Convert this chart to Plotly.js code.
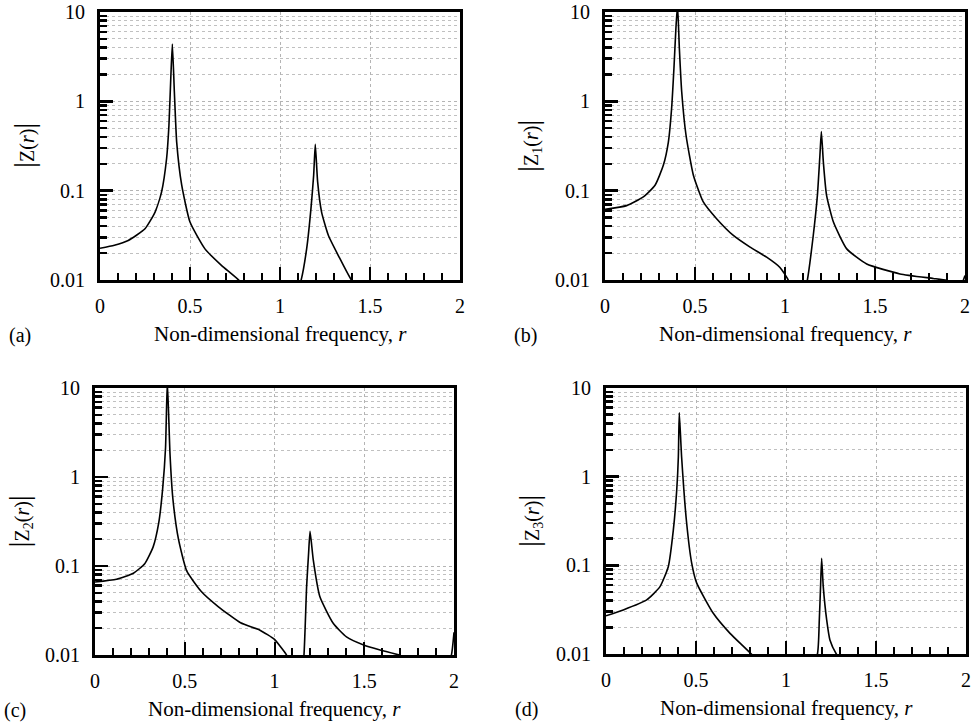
<!DOCTYPE html>
<html>
<head>
<meta charset="utf-8">
<script src="https://cdn.plot.ly/plotly-3.0.1.min.js"></script>
<style>
html,body{margin:0;padding:0;background:#fff;}
#chart{width:973px;height:724px;}
#chart svg text, #chart svg tspan { font-family: "Liberation Serif", "Times New Roman", "DejaVu Serif", serif !important; }
</style>
</head>
<body>
<div id="chart"></div>
<script>
// ---- data ----
const xTickVals = [0, 0.5, 1, 1.5, 2];
const xTickText = ['0', '0.5', '1', '1.5', '2'];
const yTickVals = [0.01, 0.1, 1, 10];
const yTickText = ['0.01', '0.1', '1', '10'];
const panelLabels = ['(a)', '(b)', '(c)', '(d)'];
const xTitle = 'Non-dimensional frequency, <i>r</i>';
const yTitles = [
  'Z(<i>r</i>)',
  'Z<sub>1</sub>(<i>r</i>)',
  'Z<sub>2</sub>(<i>r</i>)',
  'Z<sub>3</sub>(<i>r</i>)'
];

// panel (a)  |Z(r)|
const rA = [0, 0.08, 0.157, 0.25, 0.306, 0.342, 0.37, 0.383, 0.394, 0.402, 0.413, 0.426, 0.454, 0.5, 0.583, 0.676, 0.772, 0.85, 0.95, 1.05, 1.117, 1.148, 1.172, 1.187, 1.196, 1.209, 1.231, 1.269, 1.324, 1.398, 1.5, 1.7, 2.0];
const zA = [0.0227, 0.0245, 0.0277, 0.0374, 0.0576, 0.0966, 0.229, 0.54, 1.98, 4.37, 1.29, 0.35, 0.115, 0.0445, 0.0223, 0.0145, 0.0099, 0.006, 0.003, 0.004, 0.0099, 0.0223, 0.063, 0.149, 0.33, 0.126, 0.0576, 0.0315, 0.0188, 0.0099, 0.006, 0.004, 0.003];

// panel (b)  |Z1(r)|
const rB = [0, 0.12, 0.213, 0.278, 0.324, 0.352, 0.37, 0.383, 0.394, 0.403, 0.413, 0.426, 0.45, 0.491, 0.546, 0.62, 0.713, 0.806, 0.898, 0.972, 1.019, 1.06, 1.1, 1.124, 1.157, 1.18, 1.194, 1.202, 1.213, 1.231, 1.269, 1.343, 1.454, 1.639, 1.824, 1.898, 1.95, 1.985, 2.0];
const zB = [0.062, 0.068, 0.085, 0.115, 0.192, 0.35, 0.83, 2.35, 6.6, 12, 3.95, 1.29, 0.42, 0.149, 0.0747, 0.0485, 0.0315, 0.0233, 0.018, 0.0138, 0.0099, 0.005, 0.006, 0.0099, 0.0315, 0.0885, 0.249, 0.46, 0.21, 0.0885, 0.0445, 0.0223, 0.0151, 0.0117, 0.0104, 0.0099, 0.0093, 0.0095, 0.0112];

// panel (c)  |Z2(r)|
const rC = [0, 0.12, 0.214, 0.277, 0.324, 0.355, 0.377, 0.393, 0.403, 0.418, 0.434, 0.465, 0.511, 0.591, 0.686, 0.811, 0.919, 1.0, 1.04, 1.068, 1.11, 1.15, 1.164, 1.179, 1.19, 1.198, 1.216, 1.253, 1.327, 1.401, 1.5, 1.588, 1.7, 1.8, 1.95, 1.985, 2.0];
const zC = [0.066, 0.071, 0.083, 0.106, 0.164, 0.305, 0.74, 2.13, 12, 1.79, 0.566, 0.2, 0.088, 0.052, 0.035, 0.023, 0.019, 0.015, 0.0119, 0.0099, 0.005, 0.006, 0.0099, 0.059, 0.14, 0.245, 0.117, 0.045, 0.0227, 0.016, 0.0129, 0.0114, 0.0099, 0.008, 0.007, 0.0099, 0.018];

// panel (d)  |Z3(r)|
const rD = [0, 0.096, 0.226, 0.3, 0.346, 0.374, 0.393, 0.402, 0.407, 0.42, 0.448, 0.476, 0.504, 0.596, 0.689, 0.809, 0.9, 1.0, 1.1, 1.174, 1.185, 1.192, 1.198, 1.207, 1.226, 1.244, 1.281, 1.4, 1.7, 2.0];
const zD = [0.027, 0.0314, 0.0407, 0.0575, 0.0966, 0.25, 0.71, 1.68, 5.3, 1.68, 0.3, 0.106, 0.063, 0.0288, 0.0171, 0.0099, 0.006, 0.004, 0.005, 0.0099, 0.0242, 0.0575, 0.12, 0.0575, 0.0242, 0.0144, 0.0099, 0.005, 0.003, 0.002];

// ---- construction ----
const W = 973, H = 724;
const FONT = '"Liberation Serif", "Times New Roman", "DejaVu Serif", serif';
const minorY = [];
[0.01, 0.1, 1].forEach(d => { for (let k = 2; k <= 9; k++) minorY.push(+(d * k).toPrecision(3)); });

// plot boxes in pixels: [left, right, top, bottom]
const boxes = [
  [100, 460, 12, 280],
  [605, 965, 12, 280],
  [95, 454, 388, 655],
  [606, 966, 388, 654]
];
const series = [[rA, zA], [rB, zB], [rC, zC], [rD, zD]];

const traces = [];
const layout = {
  width: W, height: H,
  margin: {l: 0, r: 0, t: 0, b: 0},
  paper_bgcolor: '#fff', plot_bgcolor: '#fff',
  showlegend: false,
  font: {family: FONT, color: '#000', size: 20},
  annotations: []
};

boxes.forEach((b, i) => {
  const n = i === 0 ? '' : String(i + 1);
  traces.push({
    x: series[i][0], y: series[i][1],
    xaxis: 'x' + n, yaxis: 'y' + n,
    type: 'scatter', mode: 'lines',
    line: {color: '#000', width: 1.6, shape: 'spline', smoothing: 0.5},
    hoverinfo: 'skip'
  });
  layout['xaxis' + n] = {
    domain: [b[0] / W, b[1] / W],
    anchor: 'y' + n,
    range: [0, 2],
    tickmode: 'array', tickvals: xTickVals, ticktext: xTickText,
    ticks: 'inside', ticklen: 13, tickwidth: 2, tickcolor: '#000',
    showline: true, linewidth: 3, linecolor: '#000', mirror: true,
    showgrid: true, gridcolor: '#b4b4b4', gridwidth: 1, griddash: 'dot',
    zeroline: false,
    tickfont: {family: FONT, size: 20, color: '#000'},
    ticklabelstandoff: 6,
    minor: {dtick: 0.1, tick0: 0, ticks: 'inside', ticklen: 7, tickwidth: 2, tickcolor: '#000', showgrid: false},
    fixedrange: true
  };
  layout['yaxis' + n] = {
    domain: [1 - b[3] / H, 1 - b[2] / H],
    anchor: 'x' + n,
    type: 'log', range: [-2, 1],
    tickmode: 'array', tickvals: yTickVals, ticktext: yTickText,
    ticks: 'inside', ticklen: 13, tickwidth: 2.5, tickcolor: '#000',
    showline: true, linewidth: 3, linecolor: '#000', mirror: true,
    showgrid: true, gridcolor: '#b4b4b4', gridwidth: 1, griddash: 'dot',
    zeroline: false,
    tickfont: {family: FONT, size: 20, color: '#000'},
    ticklabelstandoff: 8,
    minor: {tickmode: 'array', tickvals: minorY, ticks: 'inside', ticklen: 7, tickwidth: 2.5, tickcolor: '#000',
            showgrid: true, gridcolor: '#c0c0c0', gridwidth: 1, griddash: 'dot'},
    fixedrange: true
  };
  const cx = (b[0] + b[1]) / 2;
  // x title
  layout.annotations.push({
    xref: 'paper', yref: 'paper', x: cx / W, y: 1 - (b[3] + 54) / H,
    xanchor: 'center', yanchor: 'middle', showarrow: false,
    text: xTitle, font: {family: FONT, size: 21, color: '#000'}
  });
  // y title
  layout.annotations.push({
    xref: 'paper', yref: 'paper', x: (b[0] - 77) / W, y: 1 - ((b[2] + b[3]) / 2) / H,
    xanchor: 'center', yanchor: 'middle', showarrow: false, textangle: -90,
    text: '<span style="font-size:30px">|</span>' + yTitles[i] + '<span style="font-size:30px">|</span>',
    font: {family: FONT, size: 20, color: '#000'}
  });
  // panel label
  layout.annotations.push({
    xref: 'paper', yref: 'paper', x: (b[0] - 80) / W, y: 1 - (b[3] + 55) / H,
    xanchor: 'center', yanchor: 'middle', showarrow: false,
    text: panelLabels[i], font: {family: FONT, size: 20, color: '#000'}
  });
});

Plotly.newPlot('chart', traces, layout, {staticPlot: true, displayModeBar: false});
</script>
</body>
</html>
